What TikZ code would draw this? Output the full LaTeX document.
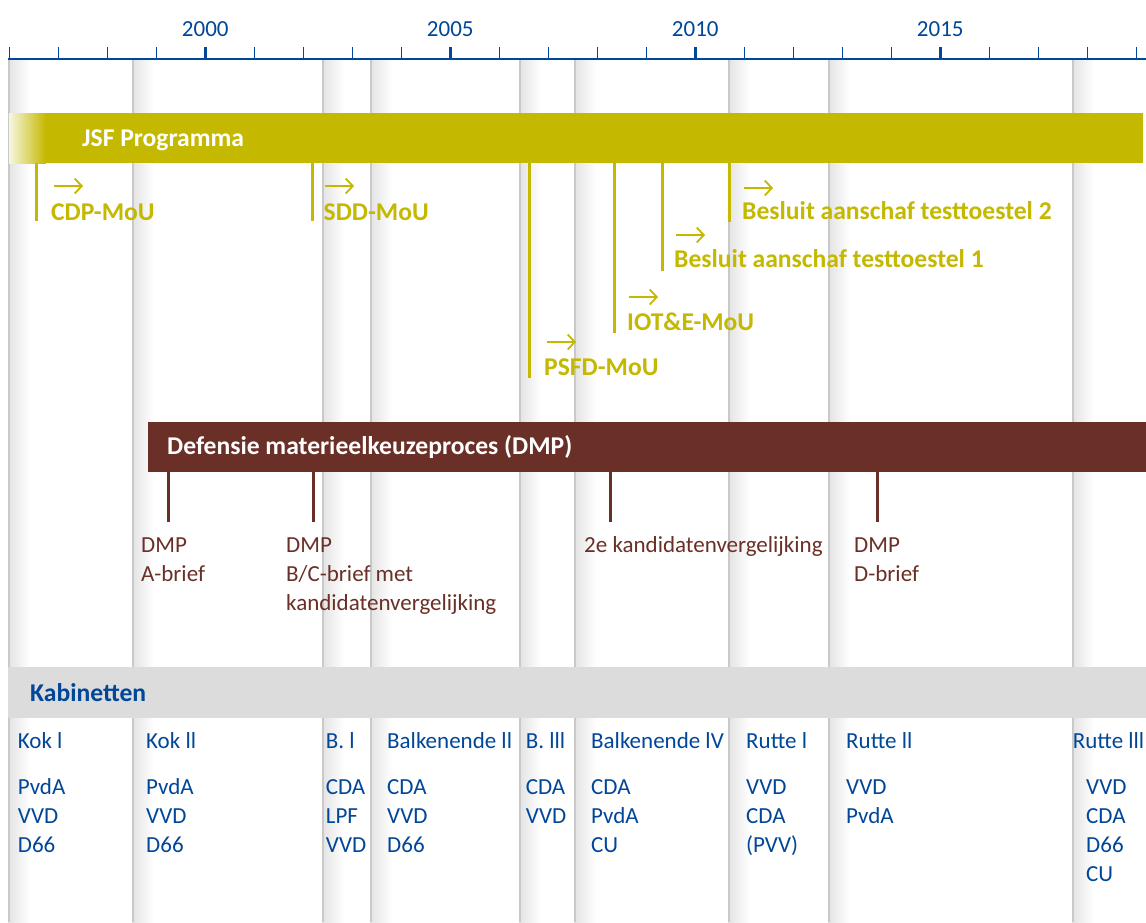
\documentclass[tikz,border=0pt]{standalone}
\usepackage{fontspec}
\setmainfont{Carlito}
\usetikzlibrary{arrows.meta}
\definecolor{cblue}{RGB}{0,71,153}
\definecolor{jsfcol}{RGB}{196,184,0}
\definecolor{dmpcol}{RGB}{106,47,38}
\definecolor{kabgray}{RGB}{220,220,220}
\tikzset{
  txt/.style={inner sep=0pt, anchor=base west},
  reg/.style={txt, font=\fontsize{23}{29}\selectfont},
  bld/.style={txt, font=\bfseries\fontsize{25.6}{30}\selectfont},
  cab/.style={reg, text=cblue},
  dmplbl/.style={reg, text=dmpcol},
  jsflbl/.style={bld, text=jsfcol},
  jsfline/.style={jsfcol, line width=3pt},
  dmpline/.style={dmpcol, line width=3pt},
  msarrow/.style={jsfcol, line width=1.8pt, -{Straight Barb[length=7pt,width=15pt]}},
  yearlbl/.style={inner sep=0pt, anchor=base, text=cblue, font=\fontsize{23}{26}\selectfont},
}
\begin{document}
\begin{tikzpicture}[x=1pt,y=-1pt]
\useasboundingbox (0,0) rectangle (1146,922);
\fill[white] (0,0) rectangle (1146,922);
% separator bands
\foreach \sx in {8,132,322,370,519,574,728,828,1072}{
  \shade[left color=black!11, right color=white] (\sx,60) rectangle (\sx+22,922);
  \fill[black!21] (\sx,60) rectangle (\sx+2,922);
}
% axis
\draw[cblue, line width=2.2pt] (8,59) -- (1146,59);
\foreach \i in {0,...,23}{
  \draw[cblue, line width=1.5pt] (9.3+49*\i,47) -- (9.3+49*\i,59);
}
\foreach \i in {4,9,14,19}{
  \draw[cblue, line width=3pt] (9.3+49*\i,47) -- (9.3+49*\i,59);
}
\node[yearlbl] (y2000) at (205.3,36) {2000};
\node[yearlbl] (y2005) at (450.3,36) {2005};
\node[yearlbl] (y2010) at (695.3,36) {2010};
\node[yearlbl] (y2015) at (940.3,36) {2015};
% JSF bar
\shade[left color=jsfcol!12, right color=jsfcol] (9,113) rectangle (46,163);
\fill[jsfcol] (46,113) rectangle (1143,163);
\node[bld, text=white] (jsf) at (82,146) {JSF Programma};
% JSF milestones
\coordinate (cdpT) at (36,163);  \coordinate (cdpB) at (36,221);
\coordinate (sddT) at (312,163); \coordinate (sddB) at (312,221);
\coordinate (psfT) at (529,163); \coordinate (psfB) at (529,378);
\coordinate (iotT) at (614,163); \coordinate (iotB) at (614,333);
\coordinate (b1T) at (662,163);  \coordinate (b1B) at (662,271);
\coordinate (b2T) at (729,163);  \coordinate (b2B) at (729,222);
\draw[jsfline] (cdpT) -- (cdpB);
\draw[jsfline] (sddT) -- (sddB);
\draw[jsfline] (psfT) -- (psfB);
\draw[jsfline] (iotT) -- (iotB);
\draw[jsfline] (b1T) -- (b1B);
\draw[jsfline] (b2T) -- (b2B);
\node[jsflbl] (cdp) at (51,220) {CDP-MoU};
\node[jsflbl] (sdd) at (323.5,220) {SDD-MoU};
\node[jsflbl] (psf) at (544,375) {PSFD-MoU};
\node[jsflbl] (iot) at (627,330) {IOT\&E-MoU};
\node[jsflbl] (b1) at (674,267) {Besluit aanschaf testtoestel 1};
\node[jsflbl] (b2) at (742,219) {Besluit aanschaf testtoestel 2};
\coordinate (cdpA1) at (54,186);  \coordinate (cdpA2) at (83,186);
\coordinate (sddA1) at (325,186); \coordinate (sddA2) at (354,186);
\coordinate (psfA1) at (547,342); \coordinate (psfA2) at (576,342);
\coordinate (iotA1) at (629,297); \coordinate (iotA2) at (658,297);
\coordinate (b1A1) at (676,235);  \coordinate (b1A2) at (705,235);
\coordinate (b2A1) at (744,188);  \coordinate (b2A2) at (773,188);
\draw[msarrow] (cdpA1) -- (cdpA2);
\draw[msarrow] (sddA1) -- (sddA2);
\draw[msarrow] (psfA1) -- (psfA2);
\draw[msarrow] (iotA1) -- (iotA2);
\draw[msarrow] (b1A1) -- (b1A2);
\draw[msarrow] (b2A1) -- (b2A2);
% DMP bar
\fill[dmpcol] (148,422) rectangle (1146,472);
\node[bld, text=white] (dmp) at (167,454) {Defensie materieelkeuzeproces (DMP)};
\coordinate (dAT) at (168,472); \coordinate (dAB) at (168,522);
\coordinate (dBT) at (313,472); \coordinate (dBB) at (313,522);
\coordinate (dKT) at (610.5,472); \coordinate (dKB) at (610.5,522);
\coordinate (dDT) at (877,472); \coordinate (dDB) at (877,522);
\draw[dmpline] (dAT) -- (dAB);
\draw[dmpline] (dBT) -- (dBB);
\draw[dmpline] (dKT) -- (dKB);
\draw[dmpline] (dDT) -- (dDB);
\node[dmplbl] (dA1) at (141,552) {DMP};
\node[dmplbl] (dA2) at (141,581) {A-brief};
\node[dmplbl] (dB1) at (286,552) {DMP};
\node[dmplbl] (dB2) at (286,581) {B/C-brief met};
\node[dmplbl] (dB3) at (286,610) {kandidatenvergelijking};
\node[dmplbl] (dK1) at (584,552) {2e kandidatenvergelijking};
\node[dmplbl] (dD1) at (854,552) {DMP};
\node[dmplbl] (dD2) at (854,581) {D-brief};
% Kabinetten band
\fill[kabgray] (8,667) rectangle (1146,718);
\node[bld, text=cblue] (kab) at (30,701) {Kabinetten};
% cabinets
\node[cab] (k1) at (17.7,748.5) {Kok l};
\node[cab] (k1a) at (17.7,794) {PvdA};
\node[cab] (k1b) at (17.7,823) {VVD};
\node[cab] (k1c) at (17.7,852) {D66};
\node[cab] (k2) at (146,748.5) {Kok ll};
\node[cab] (k2a) at (146,794) {PvdA};
\node[cab] (k2b) at (146,823) {VVD};
\node[cab] (k2c) at (146,852) {D66};
\node[cab] (bI) at (325.7,748.5) {B. l};
\node[cab] (bIa) at (325.7,794) {CDA};
\node[cab] (bIb) at (325.7,823) {LPF};
\node[cab] (bIc) at (325.7,852) {VVD};
\node[cab] (bII) at (387,748.5) {Balkenende ll};
\node[cab] (bIIa) at (387,794) {CDA};
\node[cab] (bIIb) at (387,823) {VVD};
\node[cab] (bIIc) at (387,852) {D66};
\node[cab] (bIII) at (525.7,748.5) {B. lll};
\node[cab] (bIIIa) at (525.7,794) {CDA};
\node[cab] (bIIIb) at (525.7,823) {VVD};
\node[cab] (bIV) at (591,748.5) {Balkenende lV};
\node[cab] (bIVa) at (591,794) {CDA};
\node[cab] (bIVb) at (591,823) {PvdA};
\node[cab] (bIVc) at (591,852) {CU};
\node[cab] (r1) at (746,748.5) {Rutte l};
\node[cab] (r1a) at (746,794) {VVD};
\node[cab] (r1b) at (746,823) {CDA};
\node[cab] (r1c) at (746,852) {(PVV)};
\node[cab] (r2) at (846,748.5) {Rutte ll};
\node[cab] (r2a) at (846,794) {VVD};
\node[cab] (r2b) at (846,823) {PvdA};
\node[cab] (r3) at (1072.7,748.5) {Rutte lll};
\node[cab] (r3a) at (1086,794) {VVD};
\node[cab] (r3b) at (1086,823) {CDA};
\node[cab] (r3c) at (1086,852) {D66};
\node[cab] (r3d) at (1086,881) {CU};
\end{tikzpicture}
\end{document}
